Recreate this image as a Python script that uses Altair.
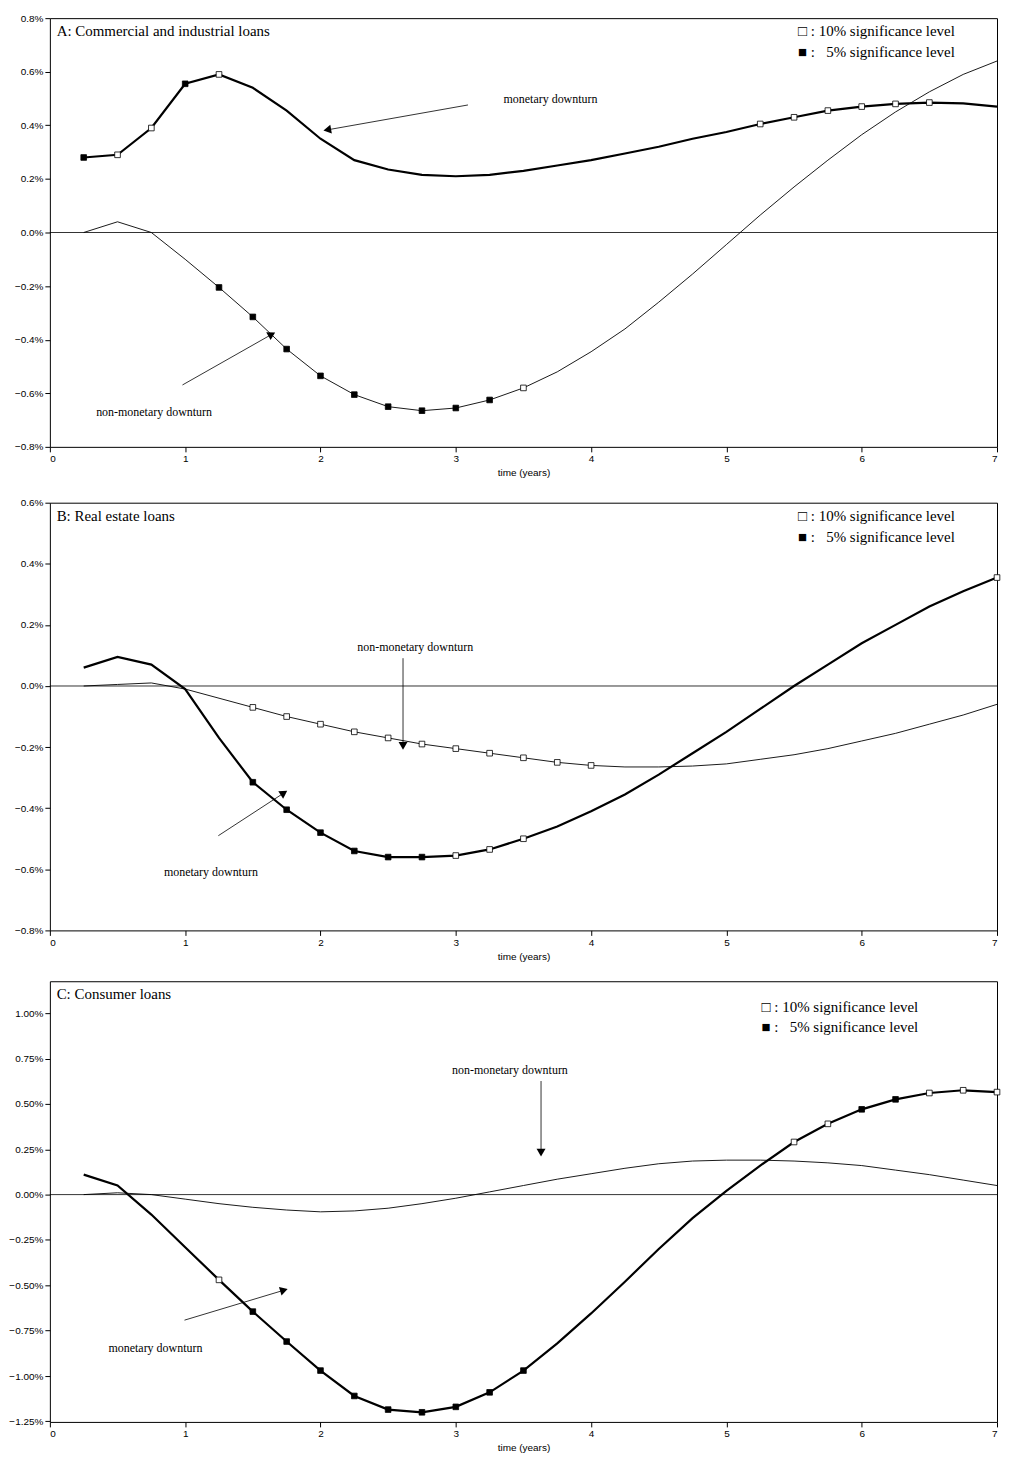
import math
import pandas as pd
import altair as alt

# quarters after the shock
t = [0.25 * i for i in range(1, 29)]

# A: commercial and industrial loans (%)
a_mon = [0.28, 0.29, 0.39, 0.555, 0.59, 0.54, 0.455, 0.35, 0.27, 0.235, 0.215, 0.21, 0.215, 0.23,
         0.25, 0.27, 0.295, 0.32, 0.35, 0.375, 0.405, 0.43, 0.455, 0.47, 0.48, 0.485, 0.482, 0.47]
a_non = [0.0, 0.04, 0.0, -0.1, -0.205, -0.315, -0.435, -0.535, -0.605, -0.65, -0.665, -0.655, -0.625, -0.58,
         -0.52, -0.445, -0.36, -0.26, -0.155, -0.045, 0.065, 0.17, 0.27, 0.365, 0.45, 0.525, 0.59, 0.64]
a_mon_sig = {0.25: 5, 0.5: 10, 0.75: 10, 1.0: 5, 1.25: 10, 5.25: 10, 5.5: 10, 5.75: 10, 6.0: 10, 6.25: 10, 6.5: 10}
a_non_sig = {1.25: 5, 1.5: 5, 1.75: 5, 2.0: 5, 2.25: 5, 2.5: 5, 2.75: 5, 3.0: 5, 3.25: 5, 3.5: 10}

# B: real estate loans (%)
b_mon = [0.06, 0.095, 0.07, -0.01, -0.17, -0.315, -0.405, -0.48, -0.54, -0.56, -0.56, -0.555, -0.535, -0.5,
         -0.46, -0.41, -0.355, -0.29, -0.22, -0.15, -0.075, 0.0, 0.07, 0.14, 0.2, 0.26, 0.31, 0.355]
b_non = [0.0, 0.005, 0.01, -0.01, -0.04, -0.07, -0.1, -0.125, -0.15, -0.17, -0.19, -0.205, -0.22, -0.235,
         -0.25, -0.26, -0.265, -0.265, -0.262, -0.255, -0.24, -0.225, -0.205, -0.18, -0.155, -0.125, -0.095, -0.06]
b_mon_sig = {1.5: 5, 1.75: 5, 2.0: 5, 2.25: 5, 2.5: 5, 2.75: 5, 3.0: 10, 3.25: 10, 3.5: 10, 7.0: 10}
b_non_sig = {1.5: 10, 1.75: 10, 2.0: 10, 2.25: 10, 2.5: 10, 2.75: 10, 3.0: 10, 3.25: 10, 3.5: 10, 3.75: 10, 4.0: 10}

# C: consumer loans (%)
c_mon = [0.11, 0.05, -0.11, -0.29, -0.47, -0.645, -0.81, -0.97, -1.11, -1.185, -1.2, -1.17, -1.09, -0.97,
         -0.82, -0.655, -0.48, -0.3, -0.13, 0.02, 0.16, 0.29, 0.39, 0.47, 0.525, 0.56, 0.575, 0.565]
c_non = [0.0, 0.01, 0.0, -0.025, -0.05, -0.07, -0.085, -0.095, -0.09, -0.075, -0.05, -0.02, 0.015, 0.05,
         0.085, 0.115, 0.145, 0.17, 0.185, 0.19, 0.19, 0.185, 0.175, 0.16, 0.135, 0.11, 0.08, 0.05]
c_mon_sig = {1.25: 10, 1.5: 5, 1.75: 5, 2.0: 5, 2.25: 5, 2.5: 5, 2.75: 5, 3.0: 5, 3.25: 5, 3.5: 5,
             5.5: 10, 5.75: 10, 6.0: 5, 6.25: 5, 6.5: 10, 6.75: 10, 7.0: 10}
c_non_sig = {}

W = 950
SERIF = "Liberation Serif"
SANS = "Liberation Sans"
NB = "\u00a0"


def panel(title, mon, non, mon_sig, non_sig, dom, ticks, fmt, h, notes, legend_xy):
    df = pd.DataFrame({"t": t * 2, "v": mon + non,
                       "s": ["mon"] * len(t) + ["non"] * len(t)})
    sig = [(k, mon[t.index(k)], s) for k, s in mon_sig.items()] + \
          [(k, non[t.index(k)], s) for k, s in non_sig.items()]
    sdf = pd.DataFrame(sig, columns=["t", "v", "lvl"]) if sig else pd.DataFrame({"t": [], "v": [], "lvl": []})

    xs = alt.Scale(domain=[0, 7], nice=False)
    ys = alt.Scale(domain=dom, nice=False, zero=False)
    xax = alt.Axis(values=list(range(8)), format="d", grid=False, labelFont=SANS, labelFontSize=10, tickSize=5,
                   title="time (years)", titleFont=SANS, titleFontSize=10, titleFontWeight="normal",
                   domain=False, labelColor="black", tickColor="black", titleColor="black")
    yax = alt.Axis(values=ticks, grid=False, labelFont=SANS, labelFontSize=10, tickSize=5,
                   labelExpr="format(datum.value, '%s') + '%%'" % fmt, title=None,
                   domain=False, labelColor="black", tickColor="black")

    base = alt.Chart(df)
    lines = base.mark_line(color="black").encode(
        x=alt.X("t:Q", scale=xs, axis=xax),
        y=alt.Y("v:Q", scale=ys, axis=yax),
        detail="s:N",
        strokeWidth=alt.StrokeWidth("s:N", scale=alt.Scale(domain=["mon", "non"], range=[2.2, 0.9]), legend=None),
    )
    zero = alt.Chart(pd.DataFrame({"z": [0]})).mark_rule(color="black", strokeWidth=0.8).encode(y=alt.Y("z:Q", scale=ys))
    pts = alt.Chart(sdf).mark_square(size=32, stroke="black", strokeWidth=0.8, opacity=1).encode(
        x=alt.X("t:Q", scale=xs), y=alt.Y("v:Q", scale=ys),
        fill=alt.Fill("lvl:Q", scale=alt.Scale(domain=[5, 10], range=["black", "white"], type="ordinal"), legend=None),
    )

    txt = pd.DataFrame([(0.05, dom[1] - (dom[1] - dom[0]) * 13 / h, title)] +
                       [(n[0], n[1], n[2]) for n in notes] +
                       [(legend_xy[0], legend_xy[1], "\u25a1 : 10% significance level"),
                        (legend_xy[0], legend_xy[2], "\u25a0 :" + NB * 3 + "5% significance level")],
                       columns=["x", "y", "label"])
    big = txt.iloc[[0, -2, -1]]
    small = txt.iloc[1:-2]
    t_big = alt.Chart(big).mark_text(font=SERIF, fontSize=15, align="left", baseline="middle", color="black").encode(
        x=alt.X("x:Q", scale=xs), y=alt.Y("y:Q", scale=ys), text="label:N")
    t_small = alt.Chart(small).mark_text(font=SERIF, fontSize=12, align="center", baseline="middle", color="black").encode(
        x=alt.X("x:Q", scale=xs), y=alt.Y("y:Q", scale=ys), text="label:N")

    # arrows
    px, py = W / 7, h / (dom[1] - dom[0])
    arr = []
    for n in notes:
        x0, y0, x1, y1 = n[3]
        ang = math.degrees(math.atan2((x1 - x0) * px, (y1 - y0) * py)) % 360
        arr.append((x0, y0, x1, y1, ang))
    adf = pd.DataFrame(arr, columns=["x0", "y0", "x1", "y1", "ang"])
    shafts = alt.Chart(adf).mark_rule(color="black", strokeWidth=0.8).encode(
        x=alt.X("x0:Q", scale=xs), y=alt.Y("y0:Q", scale=ys), x2="x1:Q", y2="y1:Q")
    heads = alt.Chart(adf).mark_point(shape="triangle-up", filled=True, color="black", size=80, opacity=1).encode(
        x=alt.X("x1:Q", scale=xs), y=alt.Y("y1:Q", scale=ys), angle=alt.Angle("ang:Q", scale=None))

    return alt.layer(zero, lines, shafts, heads, pts, t_big, t_small).properties(width=W, height=h)


pa = panel("A: Commercial and industrial loans", a_mon, a_non, a_mon_sig, a_non_sig,
           [-0.8, 0.8], [-0.8, -0.6, -0.4, -0.2, 0, 0.2, 0.4, 0.6, 0.8], ".1f", 430,
           [(3.7, 0.50, "monetary downturn", (3.09, 0.476, 2.05, 0.383)),
            (0.77, -0.67, "non-monetary downturn", (0.98, -0.569, 1.64, -0.38))],
           (5.53, 0.752, 0.673))
pb = panel("B: Real estate loans", b_mon, b_non, b_mon_sig, b_non_sig,
           [-0.8, 0.6], [-0.8, -0.6, -0.4, -0.2, 0, 0.2, 0.4, 0.6], ".1f", 429,
           [(2.70, 0.127, "non-monetary downturn", (2.61, 0.091, 2.61, -0.196)),
            (1.19, -0.61, "monetary downturn", (1.245, -0.49, 1.73, -0.35))],
           (5.53, 0.558, 0.489))
pc = panel("C: Consumer loans", c_mon, c_non, c_mon_sig, c_non_sig,
           [-1.253, 1.176], [-1.25, -1.0, -0.75, -0.5, -0.25, 0, 0.25, 0.5, 0.75, 1.0], ".2f", 442,
           [(3.40, 0.687, "non-monetary downturn", (3.63, 0.626, 3.63, 0.231)),
            (0.78, -0.846, "monetary downturn", (0.995, -0.692, 1.73, -0.527))],
           (5.26, 1.033, 0.923))

chart = alt.vconcat(pa, pb, pc, spacing=18).properties(
    padding={"left": 0, "top": 2, "right": 0, "bottom": 0}
).configure_view(stroke="black", strokeWidth=1)

chart.save("out.html", embed_options={"renderer": "svg", "actions": False})
